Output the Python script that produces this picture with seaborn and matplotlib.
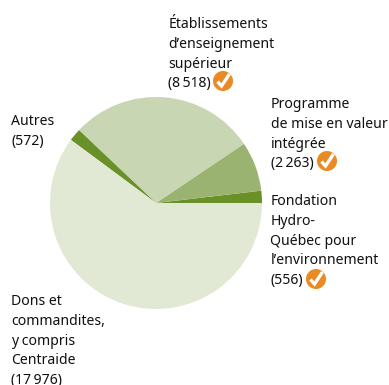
import matplotlib
matplotlib.use("Agg")
import matplotlib.pyplot as plt
import seaborn as sns
from matplotlib.patches import Circle
from matplotlib.lines import Line2D
from matplotlib.transforms import Affine2D

categories = ["Fondation Hydro-Québec pour l’environnement", "Programme de mise en valeur intégrée",
              "Établissements d’enseignement supérieur", "Autres", "Dons et commandites, y compris Centraide"]
values = [556, 2263, 8518, 572, 17976]
colors = ["#6A9128", "#9BB370", "#C9D6B3", "#6A9128", "#E1E8D4"]

label_lines = [
    ["Fondation", "Hydro-", "Québec pour", "l’environnement", "(556)"],
    ["Programme", "de mise en valeur", "intégrée", "(2\u2009263)"],
    ["Établissements", "d’enseignement", "supérieur", "(8\u2009518)"],
    ["Autres", "(572)"],
    ["Dons et", "commandites,", "y compris", "Centraide", "(17\u2009976)"],
]
label_anchor = [(270.5, 205), (271, 108), (168.5, 28), (11, 125), (11, 305)]
check_centres = [(316, 279), (327, 161), (223, 81)]

W, H = 389, 385
LINE = 19.8
sns.set_theme(style="white", palette=sns.color_palette(colors))
plt.rcParams["font.family"] = ["Noto Sans", "DejaVu Sans"]

fig = plt.figure(figsize=(W / 100, H / 100), dpi=100)
cx, cy, r = 156, 203, 106
ax = fig.add_axes([(cx - r) / W, (H - cy - r) / H, 2 * r / W, 2 * r / H])
ax.pie(values, startangle=0, counterclock=True, colors=sns.color_palette(colors), radius=1,
       wedgeprops=dict(linewidth=0))
ax.set_xlim(-1, 1)
ax.set_ylim(-1, 1)

px = Affine2D().scale(1, -1).translate(0, H)  # top-left pixel coordinates
for lines, (x, y) in zip(label_lines, label_anchor):
    for i, line in enumerate(lines):
        fig.text(x, y + i * LINE, line, transform=px, fontsize=10.1, color="#111111",
                 ha="left", va="baseline", clip_on=False)

for (x, y) in check_centres:
    fig.add_artist(Circle((x, y), 10, transform=px, facecolor="#E98A24", edgecolor="none"))
    fig.add_artist(Line2D([x - 5.5, x - 1.5, x + 6.5], [y + 0.5, y + 5, y - 7], transform=px,
                          color="white", linewidth=2.4, solid_joinstyle="miter", solid_capstyle="butt"))

fig.savefig("out.png", dpi=100, facecolor="white")
